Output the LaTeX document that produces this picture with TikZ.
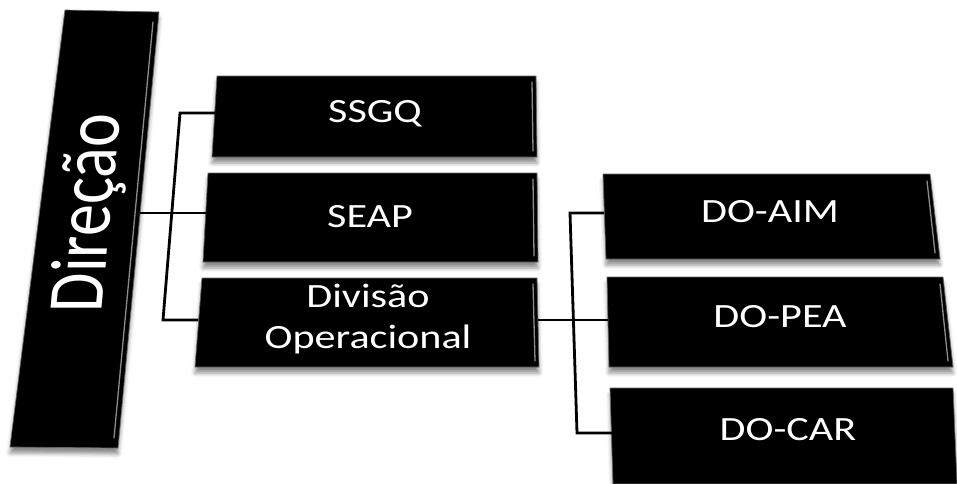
\documentclass[tikz,border=0pt]{standalone}
\usepackage{fontspec}
\setmainfont{Carlito}
\usetikzlibrary{shadows.blur}
\newcommand{\wide}[1]{\scalebox{1.24}[1]{#1}}
\begin{document}
\begin{tikzpicture}[x=1pt,y=-1pt,
  box/.style={fill=black, draw=black!60, line width=0.7pt, line join=round,
    blur shadow={shadow xshift=0pt, shadow yshift=-6pt, shadow opacity=45, shadow blur radius=4pt}},
  bevel/.style={draw=black!45, line width=1.3pt, line cap=round},
  lbl/.style={text=white, font=\fontsize{34}{41}\selectfont, anchor=base, inner sep=0pt, align=center},
  conn/.style={draw=black, line width=2.8pt, line join=miter}
]
\useasboundingbox (0,0) rectangle (957,483);

% boxes
\path[box] (65,10) -- (159,12) -- (118,448) -- (10,447) -- cycle;
\draw[bevel] (153,22) -- (114,438);
\path[box] (217,76) -- (536,76) -- (537,157) -- (212,157) -- cycle;
\draw[bevel] (532,82) -- (533,151);
\path[box] (208,173) -- (537,173) -- (538,262) -- (203,262) -- cycle;
\draw[bevel] (533,179) -- (534,256);
\path[box] (202,278) -- (537,278) -- (539,367) -- (195,367) -- cycle;
\draw[bevel] (533,284) -- (535,361);
\path[box] (603,174) -- (930,174) -- (940,259) -- (606,259) -- cycle;
\draw[bevel] (927,181) -- (935,253);
\path[box] (607,277) -- (943,277) -- (953,367) -- (609,367) -- cycle;
\draw[bevel] (940,284) -- (948,361);
\path[box] (610,388) -- (953,388) -- (957,484) -- (613,484) -- cycle;

% labels
\begin{scope}[shift={(111,213)}, xscale=1.24, xslant=0.077]
  \node[lbl, rotate=90, transform shape, font=\fontsize{64}{70}\selectfont] (dir) at (0,0) {Direção};
\end{scope}
\node[lbl] (ssgq) at (375,122) {\wide{SSGQ}};
\node[lbl] (seap) at (370,227) {\wide{SEAP}};
\node[lbl] (div) at (368,348) {\wide{Divisão}\\[0pt]\wide{Operacional}};
\node[lbl] (aim) at (770,222) {\wide{DO-AIM}};
\node[lbl] (pea) at (780,327) {\wide{DO-PEA}};
\node[lbl] (car) at (788,440) {\wide{DO-CAR}};

% connector points
\coordinate (dirR) at (140,213);
\coordinate (busT) at (180,113);
\coordinate (busB) at (163,320);
\coordinate (ssgqL) at (215,113);
\coordinate (seapL) at (206,213);
\coordinate (divL) at (198,320);
\coordinate (divR) at (538,320);
\coordinate (bus2T) at (570,213);
\coordinate (bus2B) at (577,433);
\coordinate (aimL) at (604,213);
\coordinate (peaL) at (608,320);
\coordinate (carL) at (612,433);

\draw[conn] (ssgqL) -- (busT) -- (busB) -- (divL);
\draw[conn] (dirR) -- (seapL);
\draw[conn] (aimL) -- (bus2T) -- (bus2B) -- (carL);
\draw[conn] (divR) -- (peaL);
\end{tikzpicture}
\end{document}
